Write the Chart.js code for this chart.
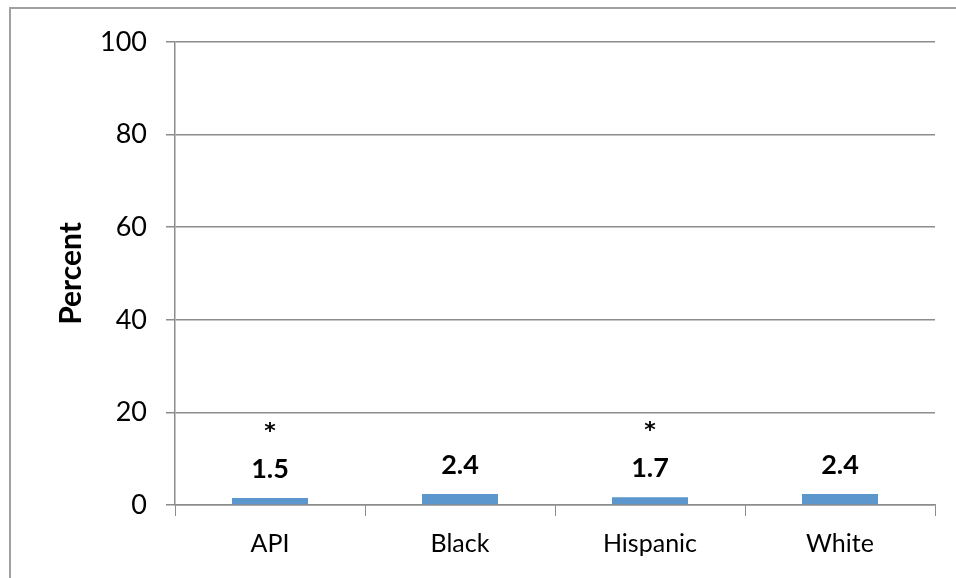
<!DOCTYPE html>
<html>
<head>
<meta charset="utf-8">
<script src="https://cdn.jsdelivr.net/npm/chart.js@4.4.0/dist/chart.umd.min.js"></script>
<style>
  body { margin: 0; background: #fff; }
  #wrap { width: 956px; height: 578px; }
</style>
</head>
<body>
<div id="wrap"><canvas id="chart" width="956" height="578"></canvas></div>
<script>
const groups = ['API', 'Black', 'Hispanic', 'White'];
const percents = [1.5, 2.4, 1.7, 2.4];
const starred = [true, false, true, false];
const yTicks = [0, 20, 40, 60, 80, 100];

const FONT = 'Lato, "Liberation Sans", sans-serif';
const gray = '#8c8c8c';

// outer frame + value labels
const decor = {
  id: 'decor',
  beforeDraw(chart) {
    const ctx = chart.ctx;
    ctx.save();
    ctx.strokeStyle = '#a0a0a0';
    ctx.lineWidth = 2;
    ctx.strokeRect(10, 8, 960, 600);
    ctx.restore();
  },
  afterDatasetsDraw(chart) {
    const ctx = chart.ctx;
    const meta = chart.getDatasetMeta(0);
    ctx.save();
    ctx.fillStyle = '#000';
    ctx.textAlign = 'center';
    ctx.textBaseline = 'middle';
    meta.data.forEach((bar, i) => {
      ctx.font = 'bold 27px ' + FONT;
      ctx.fillText(percents[i].toFixed(1), bar.x, bar.y - 29);
      if (starred[i]) {
        ctx.font = 'bold 22px "DejaVu Sans", sans-serif';
        ctx.fillText('*', bar.x, bar.y - 66);
      }
    });
    ctx.restore();
  }
};

new Chart('chart', {
  type: 'bar',
  data: {
    labels: groups,
    datasets: [{
      data: percents,
      backgroundColor: '#5b96cd',
      borderWidth: 0,
      categoryPercentage: 0.4,
      barPercentage: 1.0
    }]
  },
  options: {
    responsive: false,
    animation: false,
    layout: { padding: { left: 0, right: 21, top: 42, bottom: 0 } },
    plugins: { legend: { display: false }, tooltip: { enabled: false } },
    scales: {
      x: {
        offset: true,
        grid: { drawOnChartArea: false, drawTicks: true, tickLength: 11, color: gray, offset: true },
        border: { color: gray, width: 1.5 },
        ticks: { color: '#000', font: { family: FONT, size: 25 }, padding: 13 },
        afterFit(s) { s.height = 73; }
      },
      y: {
        min: 0, max: 100,
        afterBuildTicks(s) { s.ticks = yTicks.map(v => ({ value: v })); },
        grid: { color: gray, lineWidth: 1.5, tickLength: 9 },
        border: { color: gray, width: 1.5 },
        ticks: { color: '#000', font: { family: FONT, size: 27 }, padding: 19 },
        title: { display: true, text: 'Percent', color: '#000', font: { family: FONT, size: 30, weight: 'bold' }, padding: { top: 53, bottom: 0 } },
        afterFit(s) { s.width = 175; }
      }
    }
  },
  plugins: [decor]
});
</script>
</body>
</html>
